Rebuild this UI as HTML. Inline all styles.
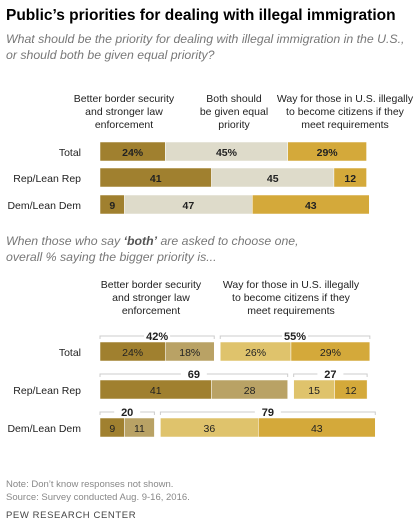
<!DOCTYPE html>
<html><head><meta charset="utf-8"><style>
body{margin:0;background:#fff;font-family:"Liberation Sans",sans-serif;}
svg text{font-family:"Liberation Sans",sans-serif;}
</style></head><body>
<svg width="420" height="527" xmlns="http://www.w3.org/2000/svg">
<text x="6" y="20" font-size="15.5" font-weight="bold" fill="#000">Public’s priorities for dealing with illegal immigration</text>
<text x="6" y="43" font-size="12.3" font-style="italic" fill="#777">What should be the priority for dealing with illegal immigration in the U.S.,</text>
<text x="6" y="59" font-size="12.3" font-style="italic" fill="#777">or should both be given equal priority?</text>
<g font-size="10.5" fill="#222" text-anchor="middle">
<text x="124" y="102">Better border security</text><text x="124" y="115">and stronger law</text><text x="124" y="128">enforcement</text>
<text x="234" y="102">Both should</text><text x="234" y="115">be given equal</text><text x="234" y="128">priority</text>
<text x="345" y="102">Way for those in U.S. illegally</text><text x="345" y="115">to become citizens if they</text><text x="345" y="128">meet requirements</text>
</g>
<g id="topChart"></g>
<text x="6" y="245" font-size="12.3" font-style="italic" fill="#777">When those who say <tspan font-weight="bold" fill="#555">‘both’</tspan> are asked to choose one,</text>
<text x="6" y="261" font-size="12.3" font-style="italic" fill="#777">overall % saying the bigger priority is...</text>
<g font-size="10.5" fill="#222" text-anchor="middle">
<text x="151" y="288">Better border security</text><text x="151" y="301">and stronger law</text><text x="151" y="314">enforcement</text>
<text x="291" y="288">Way for those in U.S. illegally</text><text x="291" y="301">to become citizens if they</text><text x="291" y="314">meet requirements</text>
</g>
<g id="botChart"></g>
<text x="6" y="487" font-size="9.5" fill="#888">Note: Don’t know responses not shown.</text>
<text x="6" y="500" font-size="9.5" fill="#888">Source: Survey conducted Aug. 9-16, 2016.</text>
<text x="6" y="518" font-size="9.5" fill="#444" letter-spacing="0.6">PEW RESEARCH CENTER</text>
</svg>
<script>
const groups=["Total","Rep/Lean Rep","Dem/Lean Dem"];
const enforce=[24,41,9];
const both=[45,45,47];
const citizen=[29,12,43];
const bothEnforce=[18,28,11];
const bothCitizen=[26,15,36];
const NS="http://www.w3.org/2000/svg";
const x0=100,k=2.72;
function sx(v){return v*k;}
function mk(tag,at,p){const e=document.createElementNS(NS,tag);for(const a in at)e.setAttribute(a,at[a]);p.appendChild(e);return e;}
function txt(x,y,s,p,o){const t=mk("text",Object.assign({x:x,y:y,"font-size":"10.5","text-anchor":"middle",fill:"#222"},o||{}),p);t.textContent=s;return t;}
const topG=document.getElementById("topChart"),botG=document.getElementById("botChart");
const topY=[142,168,195];
groups.forEach((g,i)=>{
  const y=topY[i];
  const l=txt(81,y+14,g,topG,{"text-anchor":"end"});
  
  
  const pct=i==0?"%":"";
  let x=x0;
  [[enforce[i],"#a0802f"],[both[i],"#dedbca"],[citizen[i],"#d4a93a"]].forEach(([v,c],j)=>{
    const r=mk("rect",{x:x,y:y,width:sx(v),height:19,fill:c,stroke:"#fff","stroke-width":"0.5"},topG);
    
    
    const t=txt(x+sx(v)/2,y+14,v+pct,topG,{"font-weight":"bold"});
    
    
    x+=sx(v);
  });
});
const botY=[342,380,418];
groups.forEach((g,i)=>{
  const y=botY[i];
  const l=txt(81,y+14,g,botG,{"text-anchor":"end"});
  
  
  const pct=i==0?"%":"";
  const le=enforce[i]+bothEnforce[i], rc=citizen[i]+bothCitizen[i];
  const segs=[[x0,enforce[i],"#a0802f"],[x0+sx(enforce[i]),bothEnforce[i],"#b9a265"]];
  const rx=x0+sx(le)+6;
  segs.push([rx,bothCitizen[i],"#dfc36c"],[rx+sx(bothCitizen[i]),citizen[i],"#d4a93a"]);
  segs.forEach(([x,v,c],j)=>{
    const r=mk("rect",{x:x,y:y,width:sx(v),height:19,fill:c,stroke:"#fff","stroke-width":"0.5"},botG);
    
    
    const t=txt(x+sx(v)/2,y+14,v+pct,botG);
    
    
  });
  [[x0,le],[rx,rc]].forEach(([x,v])=>{
    const w=sx(v),by=y-6,cx=x+w/2;
    const p=mk("path",{d:`M${x},${by+3}V${by}H${cx-13}M${cx+13},${by}H${x+w}V${by+3}`,stroke:"#ccc",fill:"none","stroke-width":"1"},botG);
    
    
    const t=txt(cx,by+4,v+pct,botG,{"font-weight":"bold","font-size":"11"});
    
    
  });
});
</script>
</body></html>
